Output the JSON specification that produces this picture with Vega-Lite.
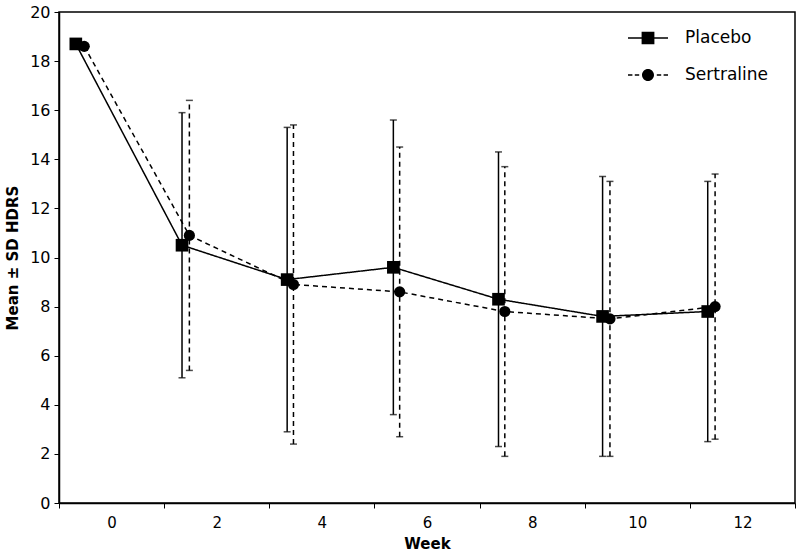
{
  "$schema": "https://vega.github.io/schema/vega-lite/v6.json",
  "width": 736,
  "height": 491,
  "autosize": {"type": "none"},
  "padding": {"left": 59, "top": 12, "right": 5, "bottom": 53},
  "background": "white",
  "config": {
    "font": "DejaVu Sans",
    "view": {"stroke": "black", "strokeWidth": 1.5},
    "axis": {
      "domainColor": "black", "domainWidth": 1.5, "tickColor": "black", "tickWidth": 1,
      "labelColor": "black", "titleColor": "black", "labelFont": "DejaVu Sans", "titleFont": "DejaVu Sans",
      "labelFontSize": 15, "titleFontSize": 15, "titleFontWeight": "bold", "grid": false
    },
    "legend": {
      "orient": "none", "legendX": 568, "legendY": 5, "padding": 0,
      "symbolSize": 1600, "labelFontSize": 17, "labelFont": "DejaVu Sans", "labelColor": "black",
      "labelOffset": 16, "rowPadding": 6,
      "symbolFillColor": "black", "symbolStrokeColor": "black", "symbolStrokeWidth": 1.5, "symbolOpacity": 1
    }
  },
  "data": {
    "values": [
      {"group": "Placebo", "pos": 0.16, "mean": 18.7, "lo": null, "hi": null},
      {"group": "Placebo", "pos": 1.17, "mean": 10.5, "lo": 5.1, "hi": 15.9},
      {"group": "Placebo", "pos": 2.17, "mean": 9.1, "lo": 2.9, "hi": 15.3},
      {"group": "Placebo", "pos": 3.18, "mean": 9.6, "lo": 3.6, "hi": 15.6},
      {"group": "Placebo", "pos": 4.18, "mean": 8.3, "lo": 2.3, "hi": 14.3},
      {"group": "Placebo", "pos": 5.17, "mean": 7.6, "lo": 1.9, "hi": 13.3},
      {"group": "Placebo", "pos": 6.17, "mean": 7.8, "lo": 2.5, "hi": 13.1},
      {"group": "Sertraline", "pos": 0.24, "mean": 18.6, "lo": null, "hi": null},
      {"group": "Sertraline", "pos": 1.24, "mean": 10.9, "lo": 5.4, "hi": 16.4},
      {"group": "Sertraline", "pos": 2.23, "mean": 8.9, "lo": 2.4, "hi": 15.4},
      {"group": "Sertraline", "pos": 3.24, "mean": 8.6, "lo": 2.7, "hi": 14.5},
      {"group": "Sertraline", "pos": 4.24, "mean": 7.8, "lo": 1.9, "hi": 13.7},
      {"group": "Sertraline", "pos": 5.24, "mean": 7.5, "lo": 1.9, "hi": 13.1},
      {"group": "Sertraline", "pos": 6.24, "mean": 8.0, "lo": 2.6, "hi": 13.4}
    ]
  },
  "encoding": {
    "x": {
      "field": "pos", "type": "quantitative",
      "scale": {"domain": [0, 7], "nice": false, "zero": false},
      "axis": {
        "title": "Week",
        "values": [0, 0.5, 1, 1.5, 2, 2.5, 3, 3.5, 4, 4.5, 5, 5.5, 6, 6.5, 7],
        "labelExpr": "datum.value % 1 === 0.5 ? format((datum.value - 0.5) * 2, 'd') : ''",
        "tickOpacity": {"condition": {"test": "datum.value % 1 === 0", "value": 1}, "value": 0},
        "tickSize": 5, "labelPadding": 7, "labelOverlap": false, "labelFlush": false,
        "titlePadding": 6
      }
    }
  },
  "layer": [
    {
      "transform": [{"filter": "datum.hi != null"}],
      "mark": {"type": "rule", "color": "black", "strokeWidth": 1.5},
      "encoding": {
        "y": {"field": "lo", "type": "quantitative"},
        "y2": {"field": "hi"},
        "strokeDash": {"field": "group", "type": "nominal", "scale": {"domain": ["Placebo", "Sertraline"], "range": [[1, 0], [5, 4]]}, "legend": {"title": null}}
      }
    },
    {
      "transform": [{"filter": "datum.hi != null"}],
      "mark": {"type": "tick", "orient": "horizontal", "color": "black", "size": 7, "thickness": 1.5},
      "encoding": {"y": {"field": "hi", "type": "quantitative"}}
    },
    {
      "transform": [{"filter": "datum.hi != null"}],
      "mark": {"type": "tick", "orient": "horizontal", "color": "black", "size": 7, "thickness": 1.5},
      "encoding": {"y": {"field": "lo", "type": "quantitative"}}
    },
    {
      "mark": {"type": "line", "color": "black", "strokeWidth": 1.5},
      "encoding": {
        "y": {
          "field": "mean", "type": "quantitative",
          "scale": {"domain": [0, 20], "nice": false},
          "axis": {"title": "Mean ± SD HDRS", "titleFontSize": 15, "values": [0, 2, 4, 6, 8, 10, 12, 14, 16, 18, 20], "tickSize": 5, "labelPadding": 4, "labelFontSize": 16, "titlePadding": 9}
        },
        "strokeDash": {"field": "group", "type": "nominal", "scale": {"domain": ["Placebo", "Sertraline"], "range": [[1, 0], [5, 4]]}, "legend": {"title": null}}
      }
    },
    {
      "transform": [{"filter": "datum.group === 'Placebo'"}],
      "mark": {"type": "point", "shape": "square", "filled": true, "color": "black", "opacity": 1, "size": 160},
      "encoding": {"y": {"field": "mean", "type": "quantitative"}}
    },
    {
      "transform": [{"filter": "datum.group === 'Sertraline'"}],
      "mark": {"type": "point", "shape": "circle", "filled": true, "color": "black", "opacity": 1, "size": 125},
      "encoding": {"y": {"field": "mean", "type": "quantitative"}}
    },
    {
      "mark": {"type": "point", "filled": true, "fill": "black", "stroke": "black", "strokeWidth": 1.5, "opacity": 0},
      "encoding": {
        "y": {"field": "mean", "type": "quantitative"},
        "shape": {
          "field": "group", "type": "nominal",
          "scale": {"domain": ["Placebo", "Sertraline"], "range": [
            "M-1,-0.04H1V0.04H-1ZM-0.32,-0.31H0.32V0.31H-0.32Z",
            "M-1,-0.04H-0.78V0.04H-1ZM-0.66,-0.04H-0.44V0.04H-0.66ZM0.44,-0.04H0.66V0.04H0.44ZM0.78,-0.04H1V0.04H0.78ZM0.3,0A0.3,0.3 0 1,1 -0.3,0A0.3,0.3 0 1,1 0.3,0Z"
          ]},
          "legend": {"title": null}
        },
        "strokeDash": {"field": "group", "type": "nominal", "scale": {"domain": ["Placebo", "Sertraline"], "range": [[1, 0], [5, 4]]}, "legend": {"title": null}}
      }
    }
  ]
}
